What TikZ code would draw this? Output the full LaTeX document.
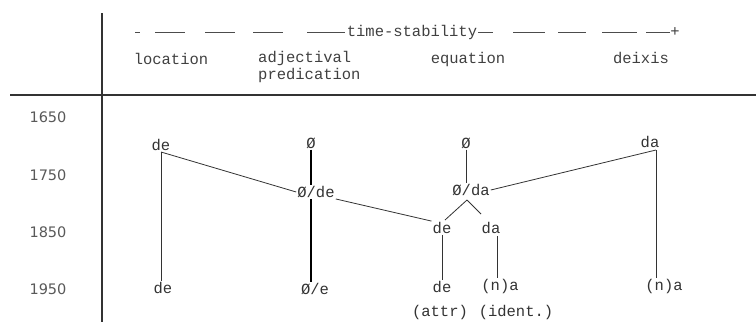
\documentclass[tikz,border=0pt]{standalone}
\usepackage{fontspec}
\setmonofont{Liberation Mono}
\newfontfamily\yearfont{DejaVu Sans}
\begin{document}
\begin{tikzpicture}[x=1pt,y=-1pt,
  lbl/.style={font=\ttfamily\fontsize{15.5}{17}\selectfont, text=black!75, inner sep=0pt},
  yr/.style={font=\yearfont\fontsize{14.5}{16}\selectfont, text=black!65, inner sep=0pt},
  form/.style={font=\ttfamily\fontsize{15.5}{17}\selectfont, text=black!80, inner sep=1pt},
  rule/.style={draw=black!80, line width=1.2pt},
  link/.style={draw=black!80, line width=0.8pt},
  thick link/.style={draw=black, line width=1.6pt},
  dsh/.style={draw=black!70, line width=0.8pt}]
\useasboundingbox (0,0) rectangle (756,322);
% grid
\coordinate (vt) at (102,13);
\coordinate (vb) at (102,322);
\coordinate (hl) at (10,95);
\coordinate (hr) at (756,95);
\draw[rule] (vt) -- (vb);
\draw[rule] (hl) -- (hr);
% header
\node[lbl] (ts) at (412,32) {time-stability};
\node[lbl] (plus) at (675,32) {+};
\foreach \a/\b in {135/140,155/185,205/235,253/283,307/345}
  \draw[dsh] (\a,32) -- (\b,32);
\foreach \a/\b in {478/493,513/545,558/586,602/637,646/670}
  \draw[dsh] (\a,32) -- (\b,32);
\node[lbl] (loc) at (171,59) {location};
\node[lbl, align=left, anchor=west] (adj) at (258,67) {adjectival\\predication};
\node[lbl] (equ) at (468,59) {equation};
\node[lbl] (dei) at (641,58) {deixis};
% years
\node[yr] (y1) at (48,117) {1650};
\node[yr] (y2) at (48,175) {1750};
\node[yr] (y3) at (48,232) {1850};
\node[yr] (y4) at (48,289) {1950};
% forms
\node[form] (deA) at (161,145) {de};
\node[form] (deA2) at (163,288) {de};
\node[form] (z1) at (311,143) {Ø};
\node[form] (zde) at (316,192) {Ø/de};
\node[form] (ze) at (315,289) {Ø/e};
\node[form] (z2) at (466,143) {Ø};
\node[form] (zda) at (471,190) {Ø/da};
\node[form] (deM) at (442,228) {de};
\node[form] (daM) at (491,228) {da};
\node[form] (deM2) at (442,287) {de};
\node[form] (na1) at (500,286) {(n)a};
\node[form] (daR) at (650,142) {da};
\node[form] (na2) at (664,286) {(n)a};
\node[form] (attr) at (440,312) {(attr)};
\node[form] (ident) at (516,312) {(ident.)};
% connectors
\coordinate (jA) at (161,152);
\draw[link] (jA) -- (jA |- deA2.north);
\draw[link] (jA) -- (zde.west);
\draw[thick link] (z1.south) -- (z1.south |- zde.north);
\draw[thick link] (z1.south |- zde.south) -- (z1.south |- ze.north);
\draw[link] (zde.south east) -- (deM.north west);
\draw[link] (z2.south) -- (z2.south |- zda.north);
\coordinate (jR) at (656,150);
\draw[link] (zda.east) -- (jR);
\draw[link] (jR) -- (jR |- na2.north);
\coordinate (apex) at (467,200);
\draw[link] (apex) -- (445,220);
\draw[link] (apex) -- (481,214);
\draw[link] (deM.south) -- (deM.south |- deM2.north);
\coordinate (jD) at (497,236);
\draw[link] (jD) -- (jD |- na1.north);
\end{tikzpicture}
\end{document}
